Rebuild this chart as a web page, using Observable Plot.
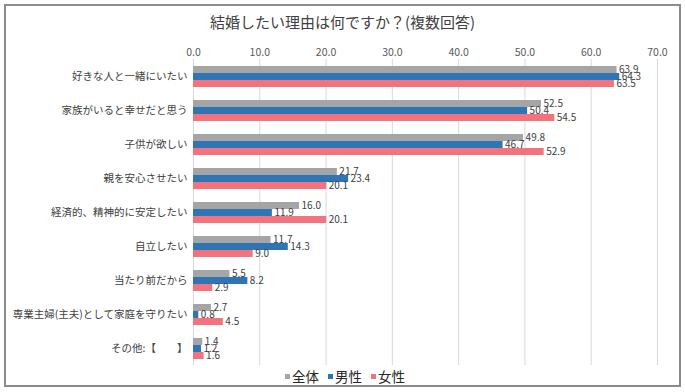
<!DOCTYPE html>
<html>
<head>
<meta charset="utf-8">
<script src="https://cdn.jsdelivr.net/npm/d3@7"></script>
<script src="https://cdn.jsdelivr.net/npm/@observablehq/plot@0.6"></script>
<style>
  html, body { margin: 0; padding: 0; background: #fff; }
  body { font-family: "Noto Sans CJK JP", "Noto Sans", sans-serif; }
  #wrap { position: relative; width: 685px; height: 392px; overflow: hidden; }
  #frame { position: absolute; left: 4px; top: 4px; width: 673px; height: 379px; border: 2px solid #8c8c8c; box-sizing: content-box; pointer-events: none; }
  #title { position: absolute; left: 0; top: 0; width: 685px; height: 38px; line-height: 44px; text-align: center; font-size: 15px; color: #404040; }
  #chart { position: absolute; left: 0; top: 38px; }
  #legend { position: absolute; left: 0; top: 366px; width: 690px; height: 20px; display: flex; justify-content: center; align-items: center; gap: 9px; font-size: 13.5px; color: #262626; }
  #legend .item { display: flex; align-items: center; gap: 2px; }
  #legend .sw { width: 5px; height: 5px; display: inline-block; }
  svg [aria-label="x-axis tick label"] text, svg [aria-label="x-axis tick label"] { fill: #595959; }
</style>
</head>
<body>
<div id="wrap">
  <div id="title">結婚したい理由は何ですか？(複数回答)</div>
  <div id="chart"></div>
  <div id="legend"></div>
  <div id="frame"></div>
</div>
<script>
const categories = [
  "好きな人と一緒にいたい",
  "家族がいると幸せだと思う",
  "子供が欲しい",
  "親を安心させたい",
  "経済的、精神的に安定したい",
  "自立したい",
  "当たり前だから",
  "専業主婦(主夫)として家庭を守りたい",
  "その他:【　　】"
];
const series = ["全体", "男性", "女性"];
const totalValues  = [63.9, 52.5, 49.8, 21.7, 16.0, 11.7, 5.5, 2.7, 1.4];
const maleValues   = [64.3, 50.4, 46.7, 23.4, 11.9, 14.3, 8.2, 0.8, 1.2];
const femaleValues = [63.5, 54.5, 52.9, 20.1, 20.1, 9.0, 2.9, 4.5, 1.6];
const xTicks = [0, 10, 20, 30, 40, 50, 60, 70];
const colors = ["#a5a5a5", "#2e75b6", "#f2737e"];

const seriesValues = [totalValues, maleValues, femaleValues];
const rows = [];
categories.forEach((c, i) => {
  series.forEach((s, j) => rows.push({category: c, series: s, value: seriesValues[j][i]}));
});

const chart = Plot.plot({
  width: 685,
  height: 329,
  marginTop: 21,
  marginBottom: 2,
  marginLeft: 193,
  marginRight: 28,
  style: { fontFamily: '"Noto Sans CJK JP", "Noto Sans", sans-serif', fontSize: "10.5px", color: "#404040", background: "transparent" },
  x: { domain: [0, 70], axis: "top", ticks: xTicks, tickFormat: d => d.toFixed(1), tickSize: 0, tickPadding: 4, label: null },
  fy: { domain: categories, padding: 0, label: null, axis: "left", tickSize: 0, tickPadding: 6 },
  y: { domain: series, axis: null, padding: 0, insetTop: 6.5, insetBottom: 6.5 },
  color: { domain: series, range: colors },
  marks: [
    Plot.gridX(xTicks, { stroke: "#d9d9d9", strokeOpacity: 1 }),
    Plot.barX(rows, { fy: "category", y: "series", x: "value", fill: "series" }),
    Plot.text(rows, { fy: "category", y: "series", x: "value", text: d => d.value.toFixed(1), dx: 2, textAnchor: "start", fontSize: 10, fill: "#404040" })
  ]
});
document.getElementById("chart").appendChild(chart);

const legend = document.getElementById("legend");
series.forEach((s, i) => {
  const item = document.createElement("span");
  item.className = "item";
  const sw = document.createElement("span");
  sw.className = "sw";
  sw.style.background = colors[i];
  const t = document.createElement("span");
  t.textContent = s;
  item.appendChild(sw);
  item.appendChild(t);
  legend.appendChild(item);
});
</script>
</body>
</html>
